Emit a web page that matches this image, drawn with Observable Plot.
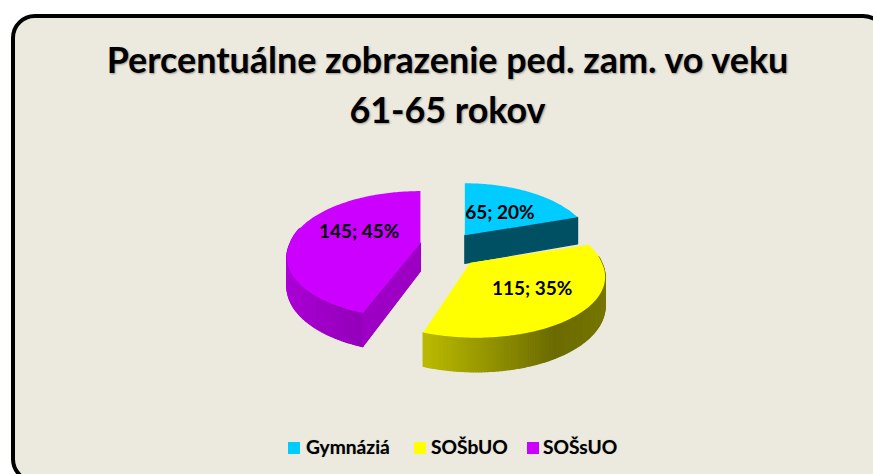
<!DOCTYPE html>
<html lang="sk">
<head>
<meta charset="utf-8">
<script src="https://cdn.jsdelivr.net/npm/d3@7"></script>
<script src="https://cdn.jsdelivr.net/npm/@observablehq/plot@0.6"></script>
<style>
html,body{margin:0;padding:0;background:#fff;}
#stage{position:relative;width:873px;height:474px;overflow:hidden;font-family:Lato,sans-serif;}
#frame{position:absolute;left:11px;top:14px;width:876px;height:469px;box-sizing:border-box;border:4px solid #000;border-radius:24px;background:#ECE9DF;}
#title{position:absolute;left:0;top:35px;width:895px;text-align:center;font-weight:700;font-size:35.9px;line-height:50px;color:#000;text-shadow:1px 1px 2px rgba(0,0,0,.35);}
#chart{position:absolute;left:0;top:0;}
#chart svg{background:transparent;display:block;}
#legend span.k{position:absolute;width:12px;height:12px;top:442px;}
#legend span.t{position:absolute;top:436px;font-weight:700;font-size:19.2px;line-height:22px;color:#000;text-shadow:0 0 1px rgba(0,0,0,.3);}
</style>
</head>
<body>
<div id="stage">
  <div id="frame"></div>
  <div id="title">Percentuálne zobrazenie ped. zam. vo veku<br>61-65 rokov</div>
  <div id="chart"></div>
  <div id="legend"></div>
</div>
<script>
const categories = ["Gymnáziá", "SOŠbUO", "SOŠsUO"];
const counts = [65, 115, 145];
const percents = [20, 35, 45];
const colors = ["#00CCFF", "#FFFF00", "#CC00FF"];

// pie projection parameters
const W = 873, H = 474, cx = 449, cy = 248, rx = 135, ry = 61.4, k = 0.18, depth = 28, ex = 29.5, ey = 20;
const rxScale = [0.927, 0.975, 0.964];
const shear = [0, 6, -6];
const nudgeX = [-2, 0, 0];
const nudgeY = [3, 0, -2];
const labelAt = [[0.45, -1, 4], [0.58, -1, 2], [0.46, -7, -3]];
const legendX = [288, 414, 527];
const legendTextX = [306, 431, 543];
const light = d3.scaleLinear([-1, -0.3, 0.5, 1], [0.85, 0.72, 0.42, 0.47]);
const cutFaces = [{slice: 0, edge: "a1", f: 0.39}, {slice: 2, edge: "a0", f: 0.77}];

const shade = (hex, f) => { const c = d3.rgb(hex); return d3.rgb(c.r * f, c.g * f, c.b * f).formatHex(); };
const rad = d => d * Math.PI / 180;

// angles follow the counts clockwise from 12 o'clock
const total = d3.sum(counts);
let acc = 0;
const slices = categories.map((name, i) => {
  const a0 = acc / total * 360; acc += counts[i];
  const a1 = acc / total * 360, mid = (a0 + a1) / 2;
  return {name, i, a0, a1, mid, count: counts[i], pct: percents[i], color: colors[i],
    ax: cx + ex * Math.sin(rad(mid)) + nudgeX[i], ay: cy - ey * Math.cos(rad(mid)) + nudgeY[i]};
});

const project = (s, deg, r = 1, down = 0) => {
  const F = -Math.cos(rad(deg)) * r;
  const p = 1 / (1 - k * F);
  return {x: s.ax + rx * rxScale[s.i] * Math.sin(rad(deg)) * r * p + shear[s.i] * Math.max(F, 0), y: s.ay + ry * F * p + depth * p * down};
};

const wallVerts = [], topVerts = [];
const poly = (list, id, fill, pts) => pts.forEach(q => list.push({id, fill, x: q.x, y: q.y}));
const step = 1;
for (const s of [slices[2], slices[0], slices[1]]) {
  for (let d = Math.max(s.a0, 84); d < Math.min(s.a1, 284); d += step) {
    const e = Math.min(d + step, s.a1);
    const f = shade(s.color, light(Math.sin(rad((d + e) / 2))));
    poly(wallVerts, `${s.i}-w-${d}`, f, [project(s, d), project(s, e), project(s, e, 1, 1), project(s, d, 1, 1)]);
  }
  for (const c of cutFaces.filter(c => c.slice === s.i)) {
    const a = s[c.edge];
    poly(wallVerts, `${s.i}-c`, shade(s.color, c.f), [project(s, a, 0), project(s, a), project(s, a, 1, 1), project(s, a, 0, 1)]);
  }
  const top = [project(s, s.a0, 0)];
  for (let d = s.a0; d < s.a1; d += step) top.push(project(s, d));
  top.push(project(s, s.a1));
  poly(topVerts, `${s.i}-t`, s.color, top);
}

// draw order: purple, blue, yellow; each slice's walls before its top
const order = ["2", "0", "1"];
const marks = order.flatMap(i => [
  Plot.line(wallVerts.filter(v => v.id.startsWith(i + "-")), {x: "x", y: "y", z: "id", fill: "fill", stroke: "fill", strokeWidth: 1.2, curve: "linear-closed"}),
  Plot.line(topVerts.filter(v => v.id.startsWith(i + "-")), {x: "x", y: "y", z: "id", fill: "fill", curve: "linear-closed"})
]);

const labels = slices.map(s => {
  const [r, dy, dx] = labelAt[s.i];
  const q = project(s, s.mid, r);
  return {x: q.x + dx, y: q.y + dy, text: `${s.count}; ${s.pct}%`};
});

const plot = Plot.plot({
  width: W, height: H, margin: 0,
  x: {domain: [0, W], range: [0, W], axis: null},
  y: {domain: [0, H], range: [0, H], axis: null},
  color: {type: "identity"},
  style: {background: "transparent"},
  marks: [
    ...marks,
    Plot.text(labels, {x: "x", y: "y", text: "text", fontFamily: "Lato, sans-serif", fontWeight: 700, fontSize: 19, fill: "#000"})
  ]
});
document.getElementById("chart").appendChild(plot);

const legend = document.getElementById("legend");
categories.forEach((c, i) => {
  const k = document.createElement("span"); k.className = "k";
  k.style.left = legendX[i] + "px"; k.style.background = colors[i];
  const t = document.createElement("span"); t.className = "t";
  t.style.left = legendTextX[i] + "px"; t.textContent = c;
  legend.append(k, t);
});
</script>
</body>
</html>
